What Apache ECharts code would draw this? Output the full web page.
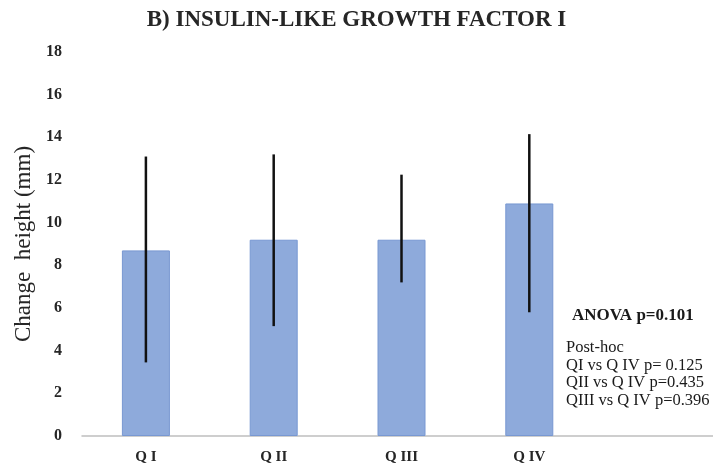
<!DOCTYPE html>
<html><head><meta charset="utf-8">
<script src="https://cdn.jsdelivr.net/npm/echarts@6/dist/echarts.min.js"></script>
<style>html,body{margin:0;padding:0;background:#fff}#c{width:713px;height:470px}</style>
</head><body><div id="c"></div>
<script>
const categories = ['Q I', 'Q II', 'Q III', 'Q IV', ''];
const means = [8.7, 9.2, 9.2, 10.9, null];
const errLow = [3.45, 5.15, 7.2, 5.8, null];
const errHigh = [13.1, 13.2, 12.25, 14.15, null];
const yTicks = [0, 2, 4, 6, 8, 10, 12, 14, 16, 18];
const titleText = 'B) INSULIN-LIKE GROWTH FACTOR I';
const yName = 'Change  height (mm)';
const anovaText = 'ANOVA p=0.101';
const postHocLines = ['Post-hoc', 'QI vs Q IV p= 0.125', 'QII vs Q IV p=0.435', 'QIII vs Q IV p=0.396'];

const F = "'Liberation Serif', 'DejaVu Serif', serif";
const chart = echarts.init(document.getElementById('c'));
const errData = categories.map((c, i) => errLow[i] == null ? null : [i, errLow[i], errHigh[i]]).filter(d => d);

chart.setOption({
  animation: false,
  title: {
    text: titleText, left: 'center', top: 4,
    textStyle: { fontFamily: F, fontSize: 23, fontWeight: 'bold', color: '#262626' }
  },
  grid: { left: 82, width: 639, top: 52, bottom: 34, outerBoundsMode: 'none', containLabel: false },
  xAxis: {
    type: 'category', data: categories,
    axisLine: { lineStyle: { color: '#bfbfbf', width: 1.5 } },
    axisTick: { show: false },
    axisLabel: { fontFamily: F, fontSize: 15, fontWeight: 'bold', color: '#262626', margin: 14 }
  },
  yAxis: {
    type: 'value', min: 0, max: 18, interval: 2,
    name: yName, nameLocation: 'middle', nameGap: 47,
    nameTextStyle: { fontFamily: F, fontSize: 23, color: '#262626', padding: [0, 0, 0, 0] },
    axisLine: { show: false }, axisTick: { show: false }, splitLine: { show: false },
    axisLabel: { fontFamily: F, fontSize: 16, fontWeight: 'bold', color: '#262626', margin: 20,
      formatter: v => yTicks.includes(v) ? String(v) : '' }
  },
  series: [
    {
      type: 'bar', data: means, barWidth: 48,
      itemStyle: { color: '#8eaadb', borderColor: '#7898d2', borderWidth: 1 }
    },
    {
      type: 'custom', data: errData, z: 10,
      renderItem: (params, api) => {
        const x = api.value(0);
        const p1 = api.coord([x, api.value(1)]);
        const p2 = api.coord([x, api.value(2)]);
        return { type: 'line', shape: { x1: p1[0], y1: p1[1], x2: p2[0], y2: p2[1] },
          style: { stroke: '#111', lineWidth: 2.5 } };
      }
    }
  ],
  graphic: [
    { type: 'text', left: 572, top: 307, style: { text: anovaText, fontFamily: F, fontSize: 17, fontWeight: 'bold', fill: '#1a1a1a' } },
    { type: 'text', left: 566, top: 339, style: { text: postHocLines.join('\n'), fontFamily: F, fontSize: 16.5, lineHeight: 17.5, fill: '#1a1a1a' } }
  ]
});
</script></body></html>
